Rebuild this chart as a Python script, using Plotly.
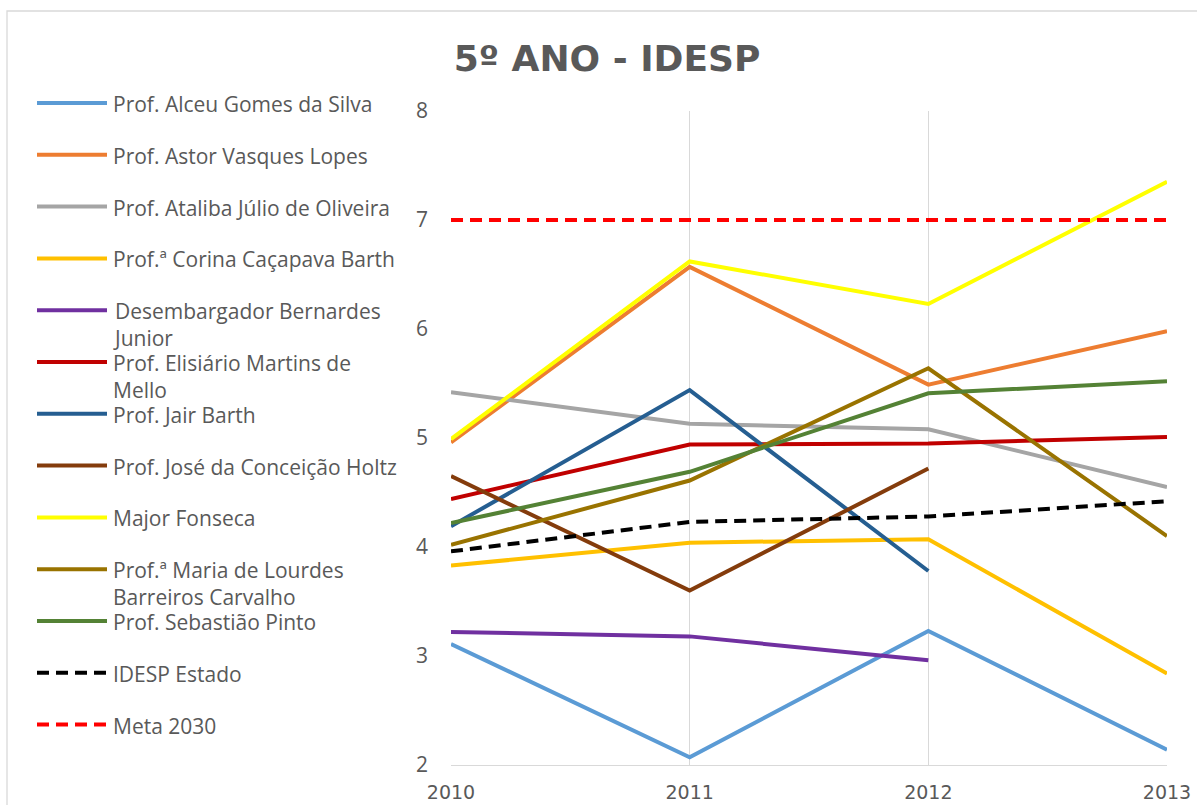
import plotly.graph_objects as go

years = [2010, 2011, 2012, 2013]

schools = [
    "Prof. Alceu Gomes da Silva",
    "Prof. Astor Vasques Lopes",
    "Prof. Ataliba Júlio de Oliveira",
    "Prof.ª Corina Caçapava Barth",
    "Desembargador Bernardes Junior",
    "Prof. Elisiário Martins de Mello",
    "Prof. Jair Barth",
    "Prof. José da Conceição Holtz",
    "Major Fonseca",
    "Prof.ª Maria de Lourdes Barreiros Carvalho",
    "Prof. Sebastião Pinto",
    "IDESP Estado",
    "Meta 2030",
]

# wrapped legend labels as they appear in the reference
legend_labels = [
    "Prof. Alceu Gomes da Silva",
    "Prof. Astor Vasques Lopes",
    "Prof. Ataliba Júlio de Oliveira",
    "Prof.ª Corina Caçapava Barth",
    "Desembargador Bernardes<br>Junior",
    "Prof. Elisiário Martins de<br>Mello",
    "Prof. Jair Barth",
    "Prof. José da Conceição Holtz",
    "Major Fonseca",
    "Prof.ª Maria de Lourdes<br>Barreiros Carvalho",
    "Prof. Sebastião Pinto",
    "IDESP Estado",
    "Meta 2030",
]

alceu = [3.11, 2.07, 3.23, 2.14]
astor = [4.96, 6.57, 5.49, 5.98]
ataliba = [5.42, 5.13, 5.08, 4.55]
corina = [3.83, 4.04, 4.07, 2.84]
desembargador = [3.22, 3.18, 2.96, None]
elisiario = [4.44, 4.94, 4.95, 5.01]
jair = [4.19, 5.44, 3.78, None]
jose = [4.65, 3.60, 4.72, None]
major = [4.99, 6.62, 6.23, 7.35]
maria = [4.02, 4.61, 5.64, 4.10]
sebastiao = [4.22, 4.69, 5.41, 5.52]
idesp_estado = [3.96, 4.23, 4.28, 4.42]
meta_2030 = [7.0, 7.0, 7.0, 7.0]

series = [alceu, astor, ataliba, corina, desembargador, elisiario, jair,
          jose, major, maria, sebastiao, idesp_estado, meta_2030]

colors = ["#5B9BD5", "#ED7D31", "#A5A5A5", "#FFC000", "#7030A0", "#C00000",
          "#255E91", "#843C0C", "#FFFF00", "#997300", "#548235", "#000000",
          "#FF0000"]
dashes = ["solid"] * 11 + ["12px,7px", "12px,7px"]

y_ticks = [2, 3, 4, 5, 6, 7, 8]

W, H = 1197, 805
L, R, T, B = 451, 30, 111, 40
pw, ph = W - L - R, H - T - B

def px_x(p):
    return (p - L) / pw

def px_y(p):
    return (H - B - p) / ph

fig = go.Figure()
for name, vals, col, dash in zip(schools, series, colors, dashes):
    fig.add_trace(go.Scatter(
        x=years, y=vals, mode="lines", name=name,
        line=dict(color=col, width=4, dash=dash),
        cliponaxis=False, showlegend=False, connectgaps=False,
    ))

font_family = "Open Sans, Lato, sans-serif"
text_col = "#595959"

shapes = []
annotations = []
# chart outer border
shapes.append(dict(type="rect", xref="paper", yref="paper",
                   x0=px_x(7), x1=px_x(1210), y0=px_y(11), y1=px_y(820),
                   line=dict(color="#D9D9D9", width=1.3), fillcolor="rgba(0,0,0,0)",
                   layer="below"))

# manual legend
legend_top = 103
legend_step = 51.8
for i, (lab, col, dash) in enumerate(zip(legend_labels, colors, dashes)):
    yc = legend_top + i * legend_step
    shapes.append(dict(type="line", xref="paper", yref="paper",
                       x0=px_x(37), x1=px_x(107), y0=px_y(yc), y1=px_y(yc),
                       line=dict(color=col, width=4, dash=dash)))
    annotations.append(dict(
        xref="paper", yref="paper", x=px_x(111), y=px_y(yc - 15),
        xanchor="left", yanchor="top", align="left", showarrow=False,
        text=lab, font=dict(family=font_family, size=21, color=text_col),
    ))

fig.update_layout(
    width=W, height=H,
    margin=dict(l=L, r=R, t=T, b=B, autoexpand=False),
    paper_bgcolor="white", plot_bgcolor="white",
    title=dict(text="<b>5º ANO - IDESP</b>", x=607 / W, xanchor="center",
               y=1 - 58 / H, yanchor="middle",
               font=dict(family="DejaVu Sans, sans-serif", size=36, color=text_col)),
    showlegend=False,
    shapes=shapes,
    annotations=annotations,
    xaxis=dict(range=[2010, 2013], tickvals=years, ticktext=[str(y) for y in years],
               showgrid=True, gridcolor="#D9D9D9", gridwidth=1.3,
               showline=True, linecolor="#D9D9D9", linewidth=1.3,
               zeroline=False, ticks="", ticklabelstandoff=10, automargin=False,
               tickfont=dict(family="DejaVu Sans, sans-serif", size=19, color=text_col)),
    yaxis=dict(range=[2, 8], tickvals=y_ticks, showgrid=False,
               showline=False, zeroline=False, ticks="", automargin=False,
               ticklabelstandoff=22,
               tickfont=dict(family=font_family, size=21, color=text_col)),
)

fig.write_html("out.html", config={"displayModeBar": False},
               post_script="document.body.style.margin='0px';")
